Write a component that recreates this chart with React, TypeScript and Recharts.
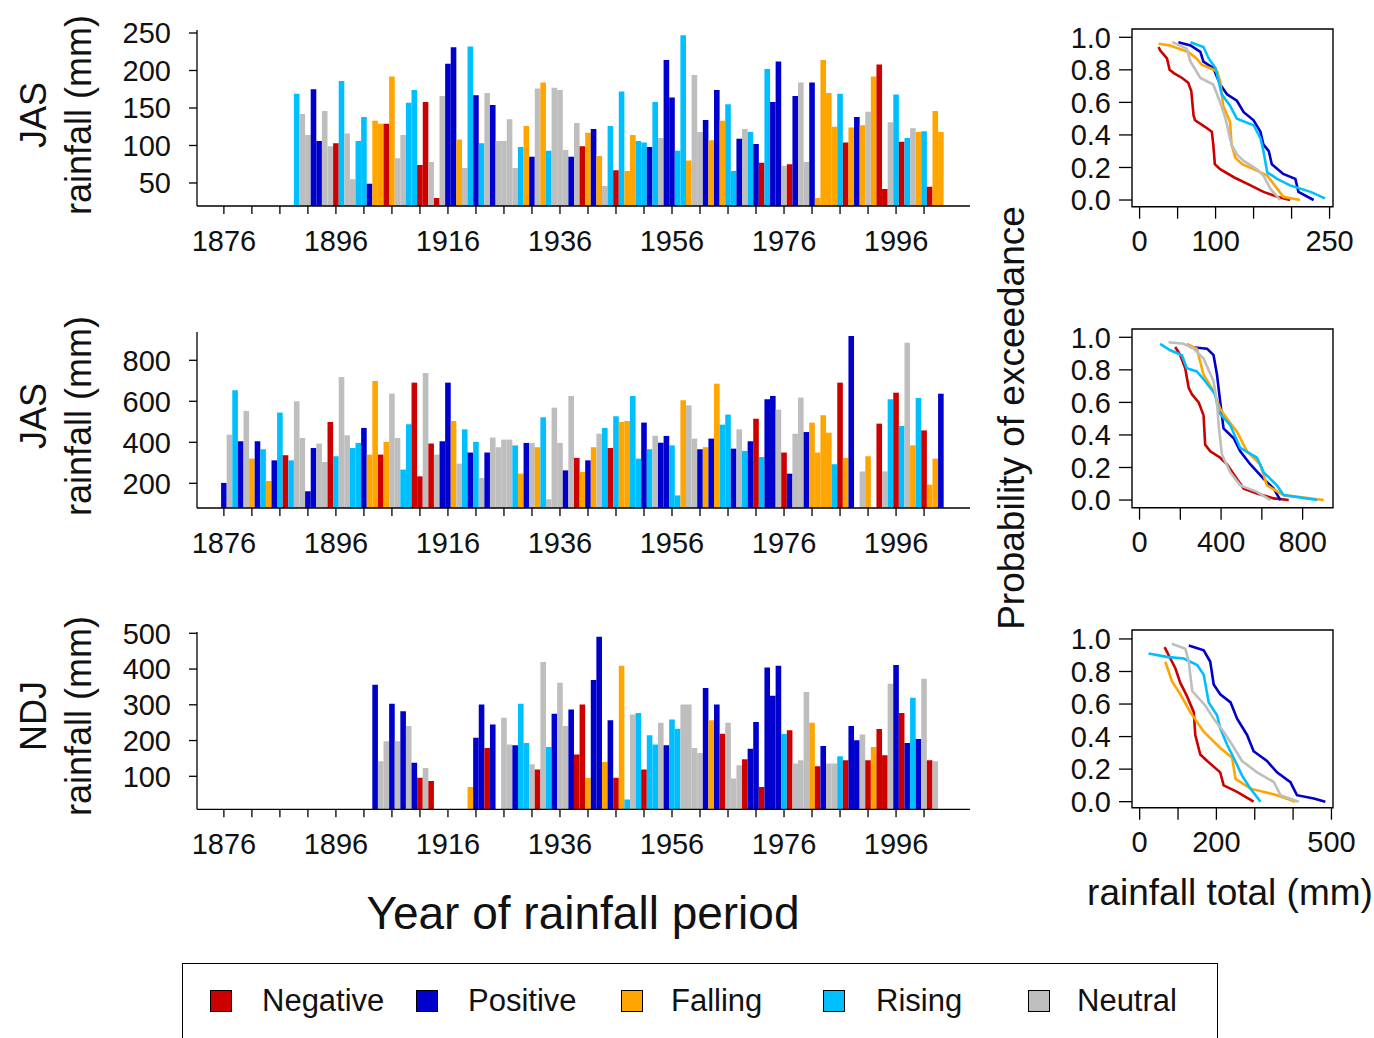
import React from "react";
import { Bar, BarChart, Cell, Line, LineChart, ReferenceArea, XAxis, YAxis } from "recharts";

type Cat = "n" | "p" | "f" | "r" | "u";

const FONT = '"Liberation Sans", Arial, Helvetica, sans-serif';

const COLOR: Record<Cat, string> = {
  n: "#CD0000",
  p: "#0000CD",
  f: "#FFA500",
  r: "#00BFFF",
  u: "#BEBEBE",
};
const LEGEND: { cat: Cat; label: string }[] = [
  { cat: "n", label: "Negative" },
  { cat: "p", label: "Positive" },
  { cat: "f", label: "Falling" },
  { cat: "r", label: "Rising" },
  { cat: "u", label: "Neutral" },
];

// years 1876..2004, one value per year
const YEARS = Array.from({ length: 129 }, (_, i) => 1876 + i);
const YEAR_TICKS = [
  1876, 1881, 1886, 1891, 1896, 1901, 1906, 1911, 1916, 1921, 1926, 1931, 1936,
  1941, 1946, 1951, 1956, 1961, 1966, 1971, 1976, 1981, 1986, 1991, 1996, 2001,
];
const YEAR_LABELS = [1876, 1896, 1916, 1936, 1956, 1976, 1996];

// top panel: JAS rainfall
const JAS1_VAL = [
  null, null, null, null, null, null, null, null, null, null,
  null, null, null, 169, 142, 114, 175, 106, 146, 99,
  103, 186, 116, 55, 106, 138, 49, 133, 129, 129,
  192, 83, 114, 157, 174, 74, 158, 78, 30, 166,
  209, 231, 108, 70, 232, 167, 103, 170, 154, 106,
  106, 135, 70, 98, 126, 85, 176, 184, 93, 177,
  174, 94, 85, 130, 99, 117, 122, 86, 46, 126,
  67, 172, 66, 114, 106, 104, 98, 158, 110, 214,
  164, 93, 247, 80, 194, 118, 134, 107, 174, 133,
  155, 66, 109, 122, 118, 102, 77, 202, 158, 212,
  73, 75, 166, 184, 78, 184, 30, 214, 170, 125,
  169, 104, 124, 138, 127, 145, 192, 208, 42, 131,
  168, 105, 110, 123, 118, 119, 45, 146, 118,
];
const JAS1_CAT =
  "---------- ---ruuppuu nruurrpffn fuurrnnunu ppfurprupu uuurfpufru uupunfpfur nrffrrprup prrfuupfpf rrpurpnrpp unpuupffff rnfpfufnnu rnrufrnff";

// middle panel: JAS rainfall
const JAS2_VAL = [
  202, 437, 654, 405, 553, 320, 405, 366, 211, 312,
  545, 337, 312, 600, 421, 161, 372, 394, 304, 499,
  332, 719, 434, 372, 397, 470, 340, 699, 340, 402,
  637, 421, 267, 488, 691, 234, 738, 394, 340, 405,
  691, 504, 296, 463, 350, 402, 226, 350, 423, 376,
  413, 413, 385, 247, 397, 397, 376, 522, 122, 569,
  397, 263, 626, 324, 255, 312, 376, 442, 470, 372,
  527, 499, 504, 626, 320, 496, 366, 432, 398, 431,
  385, 141, 605, 580, 418, 366, 376, 418, 686, 486,
  535, 369, 463, 358, 405, 515, 328, 610, 626, 559,
  350, 247, 442, 618, 450, 496, 350, 532, 447, 293,
  691, 324, 919, null, 258, 332, null, 491, 258, 610,
  642, 480, 886, 385, 616, 458, 193, 320, 637,
];
const JAS2_CAT =
  "purpufprfp rnruuppuun ruurrpffnf uurrnnunup pfurprupuu uurfpufruu upunfpfurn rffrrprupp rrfuupfpfr rpurpnrppu npuupffffr nfp-uf-nur nrufrnffp";

// bottom panel: NDJ rainfall
const NDJ_VAL = [
  null, null, null, null, null, null, null, null, null, null,
  null, null, null, null, null, null, null, null, null, null,
  null, null, null, null, null, null, null, 356, 142, 198,
  303, 198, 282, 241, 138, 96, 123, 87, null, null,
  null, null, null, null, 70, 208, 301, 179, 245, null,
  264, 189, 187, 303, 193, 134, 119, 420, 182, 275,
  362, 241, 287, 161, 301, 95, 369, 490, 140, 257,
  96, 409, 35, 273, 277, 119, 215, 189, 250, 187,
  259, 233, 301, 301, 179, 165, 347, 257, 301, 219,
  250, 94, 131, 148, 177, 252, 70, 404, 325, 409,
  218, 229, 136, 145, 336, 250, 128, 185, 136, 136,
  156, 145, 241, 201, 217, 145, 182, 232, 159, 359,
  411, 277, 193, 320, 204, 373, 145, 142, null,
];
const NDJ_CAT =
  "---------- ---------- -------puu pupupnun-- ----fppnp- uuprrunurp uupnnfppfp nfrurnrrup rruuuupfpn uuunppnppp rnuuufnpuu rnppunfnnu pnprpunu-";

// exceedance curves: [rainfall total, probability]
const EXC1_NEG = [[25, 0.94], [27, 0.92], [36, 0.87], [39.5, 0.8], [45, 0.78], [56, 0.75], [64, 0.72], [68, 0.67], [71, 0.52], [73, 0.49], [86, 0.45], [95, 0.42], [97, 0.34], [99, 0.22], [106, 0.19], [124, 0.14], [146, 0.09], [163, 0.05], [181, 0.02], [198, 0]];
const EXC1_POS = [[51, 0.97], [67, 0.95], [80, 0.91], [84, 0.85], [97, 0.81], [106, 0.71], [115, 0.65], [128, 0.61], [137, 0.54], [150, 0.49], [159, 0.42], [163, 0.34], [170, 0.3], [174, 0.22], [189, 0.16], [205, 0.13], [209, 0.05], [229, 0]];
const EXC1_FALL = [[25, 0.96], [40, 0.95], [64, 0.91], [75, 0.87], [82, 0.83], [93, 0.81], [102, 0.79], [106, 0.73], [110, 0.58], [119, 0.48], [121, 0.34], [126, 0.26], [135, 0.22], [150, 0.19], [168, 0.15], [181, 0.07], [189, 0.02], [211, 0]];
const EXC1_RISE = [[67, 0.97], [84, 0.94], [91, 0.87], [100, 0.81], [104, 0.73], [108, 0.65], [119, 0.58], [128, 0.5], [150, 0.46], [159, 0.38], [163, 0.3], [168, 0.17], [181, 0.13], [198, 0.09], [225, 0.05], [244, 0.01]];
const EXC1_NEU = [[43, 0.97], [62, 0.93], [67, 0.85], [80, 0.75], [97, 0.71], [106, 0.6], [113, 0.5], [121, 0.34], [128, 0.28], [137, 0.24], [154, 0.19], [163, 0.15], [172, 0.07], [185, 0]];

const EXC2_NEG = [[175, 0.94], [200, 0.89], [224, 0.81], [241, 0.69], [257, 0.65], [290, 0.6], [314, 0.52], [322, 0.34], [347, 0.3], [396, 0.26], [429, 0.22], [478, 0.13], [511, 0.07], [576, 0.04], [658, 0.01], [732, 0]];
const EXC2_POS = [[249, 0.94], [331, 0.93], [363, 0.89], [380, 0.77], [396, 0.6], [412, 0.44], [462, 0.38], [494, 0.3], [543, 0.22], [609, 0.13], [658, 0.07], [691, 0]];
const EXC2_FALL = [[232, 0.96], [281, 0.93], [314, 0.77], [363, 0.67], [396, 0.56], [429, 0.5], [478, 0.42], [527, 0.3], [592, 0.22], [625, 0.09], [707, 0.03], [903, 0]];
const EXC2_RISE = [[101, 0.96], [151, 0.92], [208, 0.89], [232, 0.81], [281, 0.79], [322, 0.73], [371, 0.65], [388, 0.54], [445, 0.46], [494, 0.32], [576, 0.26], [609, 0.17], [674, 0.09], [707, 0.03], [871, 0]];
const EXC2_NEU = [[142, 0.97], [216, 0.96], [265, 0.93], [314, 0.87], [363, 0.73], [380, 0.6], [388, 0.46], [404, 0.28], [445, 0.17], [494, 0.09], [576, 0.05], [642, 0]];

const EXC3_NEG = [[65, 0.95], [80, 0.88], [93, 0.82], [106, 0.73], [123, 0.65], [141, 0.55], [145, 0.41], [158, 0.29], [176, 0.25], [210, 0.18], [219, 0.1], [254, 0.06], [297, 0]];
const EXC3_POS = [[128, 0.96], [167, 0.93], [184, 0.86], [193, 0.72], [210, 0.66], [237, 0.61], [254, 0.51], [280, 0.41], [297, 0.31], [332, 0.25], [358, 0.18], [393, 0.12], [410, 0.04], [454, 0.02], [484, 0]];
const EXC3_FALL = [[67, 0.86], [84, 0.74], [106, 0.66], [132, 0.55], [167, 0.43], [210, 0.33], [241, 0.27], [250, 0.14], [289, 0.08], [358, 0.04], [406, 0]];
const EXC3_RISE = [[23, 0.91], [71, 0.89], [115, 0.88], [150, 0.84], [167, 0.78], [180, 0.61], [202, 0.53], [210, 0.45], [228, 0.35], [245, 0.27], [267, 0.16], [289, 0.08], [315, 0]];
const EXC3_NEU = [[84, 0.97], [119, 0.94], [128, 0.86], [137, 0.68], [171, 0.59], [193, 0.51], [219, 0.43], [241, 0.35], [267, 0.25], [306, 0.18], [350, 0.12], [367, 0.04], [415, 0]];

const PROB_TICKS = [0, 0.2, 0.4, 0.6, 0.8, 1];

const tickStyle = { fill: "#111", fontSize: 29, fontFamily: FONT };
const lineStyle = { stroke: "#000", strokeWidth: 1.3 };

const PLOT_L = 197;
const PLOT_R = 970;
const Y_W = 90;
const X_H = 60;
const M_TOP = 22;

function RainPanel({ values, cats, top, bottom, domain, yTicks }: {
  values: (number | null)[]; cats: string; top: number; bottom: number; domain: [number, number]; yTicks: number[];
}) {
  const codes = cats.replace(/ /g, "").split("");
  const data = YEARS.map((year, i) => ({ year, value: values[i], cat: codes[i] as Cat }));
  const width = Y_W + (PLOT_R - PLOT_L) + 20;
  const height = bottom - top + M_TOP + X_H;
  return (
    <div style={{ position: "absolute", left: PLOT_L - Y_W, top: top - M_TOP }}>
      <BarChart width={width} height={height} data={data} margin={{ top: M_TOP, right: 20, bottom: 0, left: 0 }}>
        <XAxis
          dataKey="year"
          type="number"
          domain={[1871.2, 2009.2]}
          allowDataOverflow
          ticks={YEAR_TICKS}
          interval={0}
          tickFormatter={(v: number) => (YEAR_LABELS.includes(v) ? String(v) : "")}
          tick={tickStyle}
          tickSize={8}
          tickMargin={16}
          axisLine={lineStyle}
          tickLine={lineStyle}
          height={X_H}
        />
        <YAxis
          type="number"
          domain={domain}
          allowDataOverflow
          ticks={yTicks}
          interval={0}
          tick={tickStyle}
          tickSize={8}
          tickMargin={18}
          axisLine={lineStyle}
          tickLine={lineStyle}
          width={Y_W}
        />
        <Bar dataKey="value" barSize={5.6} isAnimationActive={false}>
          {data.map((d, i) => (
            <Cell key={i} fill={COLOR[d.cat] ?? "none"} />
          ))}
        </Bar>
      </BarChart>
    </div>
  );
}

const EX_L = 1131.7;
const EX_R = 1332.7;
const EX_YW = 90;

function ExceedPanel({ series, top, bottom, xDomain, yDomain, xTicks, xLabels }: {
  series: { cat: Cat; pts: number[][] }[]; top: number; bottom: number;
  xDomain: [number, number]; yDomain: [number, number]; xTicks: number[]; xLabels: number[];
}) {
  const width = EX_YW + (EX_R - EX_L) + 35;
  const height = bottom - top + M_TOP + X_H;
  return (
    <div style={{ position: "absolute", left: EX_L - EX_YW, top: top - M_TOP }}>
      <LineChart width={width} height={height} margin={{ top: M_TOP, right: 35, bottom: 0, left: 0 }}>
        <XAxis
          dataKey="x"
          type="number"
          domain={xDomain}
          allowDataOverflow
          ticks={xTicks}
          interval={0}
          tickFormatter={(v: number) => (xLabels.includes(v) ? String(v) : "")}
          tick={tickStyle}
          tickSize={12}
          tickMargin={12}
          axisLine={false}
          tickLine={lineStyle}
          height={X_H}
        />
        <YAxis
          type="number"
          domain={yDomain}
          allowDataOverflow
          ticks={PROB_TICKS}
          interval={0}
          tickFormatter={(v: number) => v.toFixed(1)}
          tick={tickStyle}
          tickSize={13}
          tickMargin={8}
          axisLine={false}
          tickLine={lineStyle}
          width={EX_YW}
        />
        <ReferenceArea
          x1={xDomain[0]}
          x2={xDomain[1]}
          y1={yDomain[0]}
          y2={yDomain[1]}
          fill="none"
          fillOpacity={0}
          stroke="#000"
          strokeWidth={1.4}
          ifOverflow="visible"
        />
        {series.map((s) => (
          <Line
            key={s.cat}
            data={s.pts.map(([x, p]) => ({ x, p }))}
            dataKey="p"
            type="linear"
            stroke={COLOR[s.cat]}
            strokeWidth={2.6}
            dot={false}
            isAnimationActive={false}
          />
        ))}
      </LineChart>
    </div>
  );
}

const text = (extra: React.CSSProperties): React.CSSProperties => ({
  position: "absolute",
  fontFamily: FONT,
  color: "#111",
  whiteSpace: "nowrap",
  ...extra,
});

function YTitle({ first, cy }: { first: string; cy: number }) {
  return (
    <div
      style={text({
        left: 56,
        top: cy,
        fontSize: 36,
        lineHeight: "45px",
        textAlign: "center",
        transform: "translate(-50%, -50%) rotate(-90deg)",
      })}
    >
      {first}
      <br />
      rainfall (mm)
    </div>
  );
}

export default function App() {
  return (
    <div style={{ position: "absolute", left: 0, top: 0, width: 1374, height: 1038, background: "#fff", overflow: "hidden" }}>
      <RainPanel values={JAS1_VAL} cats={JAS1_CAT} top={30} bottom={206} domain={[19.3, 254]} yTicks={[50, 100, 150, 200, 250]} />
      <RainPanel values={JAS2_VAL} cats={JAS2_CAT} top={331.7} bottom={507.7} domain={[79.5, 938]} yTicks={[200, 400, 600, 800]} />
      <RainPanel values={NDJ_VAL} cats={NDJ_CAT} top={631.7} bottom={809} domain={[7.7, 503.6]} yTicks={[100, 200, 300, 400, 500]} />

      <ExceedPanel
        series={[
          { cat: "n", pts: EXC1_NEG }, { cat: "p", pts: EXC1_POS }, { cat: "f", pts: EXC1_FALL },
          { cat: "r", pts: EXC1_RISE }, { cat: "u", pts: EXC1_NEU },
        ]}
        top={29} bottom={206.7} xDomain={[-10, 254.5]} yDomain={[-0.041, 1.051]}
        xTicks={[0, 50, 100, 150, 200, 250]} xLabels={[0, 100, 250]}
      />
      <ExceedPanel
        series={[
          { cat: "n", pts: EXC2_NEG }, { cat: "p", pts: EXC2_POS }, { cat: "f", pts: EXC2_FALL },
          { cat: "r", pts: EXC2_RISE }, { cat: "u", pts: EXC2_NEU },
        ]}
        top={329} bottom={507.7} xDomain={[-37, 949]} yDomain={[-0.047, 1.051]}
        xTicks={[0, 200, 400, 600, 800]} xLabels={[0, 400, 800]}
      />
      <ExceedPanel
        series={[
          { cat: "n", pts: EXC3_NEG }, { cat: "p", pts: EXC3_POS }, { cat: "f", pts: EXC3_FALL },
          { cat: "r", pts: EXC3_RISE }, { cat: "u", pts: EXC3_NEU },
        ]}
        top={630} bottom={807.7} xDomain={[-20, 504]} yDomain={[-0.037, 1.055]}
        xTicks={[0, 100, 200, 300, 400, 500]} xLabels={[0, 200, 500]}
      />

      <YTitle first="JAS" cy={115} />
      <YTitle first="JAS" cy={416} />
      <YTitle first="NDJ" cy={716} />

      <div style={text({ left: 583, top: 913, fontSize: 46, transform: "translate(-50%, -50%)" })}>
        Year of rainfall period
      </div>
      <div style={text({ left: 1230, top: 893, fontSize: 37, transform: "translate(-50%, -50%)" })}>
        rainfall total (mm)
      </div>
      <div style={text({ left: 1012, top: 418, fontSize: 37, transform: "translate(-50%, -50%) rotate(-90deg)" })}>
        Probability of exceedance
      </div>

      <div style={{ position: "absolute", left: 182, top: 963, width: 1034, height: 120, border: "1.5px solid #000" }} />
      {LEGEND.map((item, i) => {
        const sq = [210, 416, 621, 823, 1028][i];
        const tx = [262, 468, 671, 876, 1077][i];
        return (
          <React.Fragment key={item.cat}>
            <div style={{ position: "absolute", left: sq, top: 990, width: 20, height: 20, background: COLOR[item.cat], border: "1.5px solid #000" }} />
            <div style={text({ left: tx, top: 1001, fontSize: 31, transform: "translateY(-50%)" })}>{item.label}</div>
          </React.Fragment>
        );
      })}
    </div>
  );
}
